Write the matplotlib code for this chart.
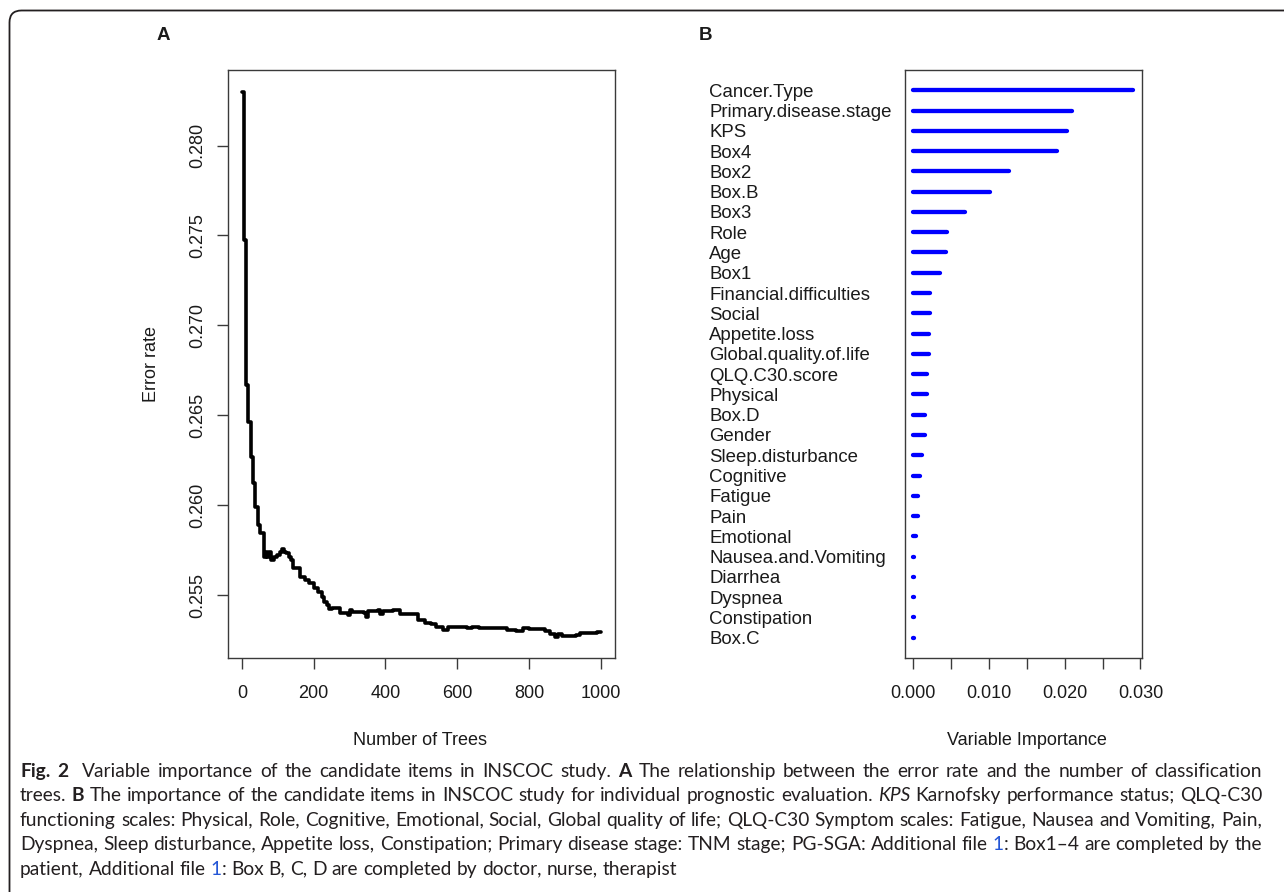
import re
import matplotlib
matplotlib.use('Agg')
import matplotlib.pyplot as plt
from matplotlib.patches import FancyBboxPatch
from matplotlib.transforms import IdentityTransform
from matplotlib.backends.backend_agg import get_hinting_flag

# A: OOB error rate as the forest grows (step values along the curve)
n_trees = [1, 7, 12, 18, 24, 30, 36, 44, 50, 62, 66, 70, 74, 80, 90, 98, 106, 112,
           118, 124, 130, 136, 142, 162, 175, 188, 200, 212, 222, 230, 236, 242, 250,
           272, 296, 300, 306, 340, 345, 352, 378, 384, 392, 420, 440, 490, 510, 528,
           542, 560, 575, 628, 640, 660, 740, 765, 783, 800, 845, 858, 872, 882, 892,
           930, 942, 990, 1000]
error_rate = [0.28299, 0.27477, 0.26669, 0.26465, 0.26270, 0.26124, 0.25992, 0.25890,
              0.25845, 0.25713, 0.25741, 0.25713, 0.25741, 0.25695, 0.25713, 0.25723,
              0.25741, 0.25756, 0.25741, 0.25732, 0.25713, 0.25695, 0.25649, 0.25602,
              0.25584, 0.25565, 0.25537, 0.25518, 0.25491, 0.25463, 0.25444, 0.25420,
              0.25429, 0.25398, 0.25389, 0.25416, 0.25407, 0.25398, 0.25376, 0.25411,
              0.25416, 0.25393, 0.25411, 0.25416, 0.25393, 0.25361, 0.25346, 0.25339,
              0.25320, 0.25305, 0.25324, 0.25318, 0.25324, 0.25315, 0.25305, 0.25301,
              0.25315, 0.25309, 0.25301, 0.25283, 0.25268, 0.25283, 0.25272, 0.25277,
              0.25287, 0.25296, 0.25296]

# B: variable importance, top to bottom
variables = ['Cancer.Type', 'Primary.disease.stage', 'KPS', 'Box4', 'Box2', 'Box.B',
             'Box3', 'Role', 'Age', 'Box1', 'Financial.difficulties', 'Social',
             'Appetite.loss', 'Global.quality.of.life', 'QLQ.C30.score', 'Physical',
             'Box.D', 'Gender', 'Sleep.disturbance', 'Cognitive', 'Fatigue', 'Pain',
             'Emotional', 'Nausea.and.Vomiting', 'Diarrhea', 'Dyspnea', 'Constipation',
             'Box.C']
importance = [0.02906, 0.02098, 0.02036, 0.01896, 0.01261, 0.01013, 0.00686, 0.00440,
              0.00427, 0.00347, 0.00223, 0.00223, 0.00202, 0.00202, 0.00175, 0.00175,
              0.00149, 0.00149, 0.00113, 0.00083, 0.00060, 0.00060, 0.00034, 0.00004,
              0.00004, 0.00004, 0.00004, 0.00003]

a_xticks = [0, 200, 400, 600, 800, 1000]
a_yticks = [0.255, 0.260, 0.265, 0.270, 0.275, 0.280]
a_yticklabels = ['0.255', '0.260', '0.265', '0.270', '0.275', '0.280']
b_xticks = [0.000, 0.005, 0.010, 0.015, 0.020, 0.025, 0.030]
b_xticklabels = ['0.000', '', '0.010', '', '0.020', '', '0.030']

caption_lines = [
    [('Fig. 2', 'b'), ('  Variable importance of the candidate items in INSCOC study. ', 'n'),
     ('A', 'b'), (' The relationship between the error rate and the number of classification', 'n')],
    [('trees. ', 'n'), ('B', 'b'),
     (' The importance of the candidate items in INSCOC study for individual prognostic evaluation. ', 'n'),
     ('KPS', 'i'), (' Karnofsky performance status; QLQ-C30', 'n')],
    [('functioning scales: Physical, Role, Cognitive, Emotional, Social, Global quality of life; '
      'QLQ-C30 Symptom scales: Fatigue, Nausea and Vomiting, Pain,', 'n')],
    [('Dyspnea, Sleep disturbance, Appetite loss, Constipation; Primary disease stage: TNM stage; '
      'PG-SGA: Additional file ', 'n'), ('1', 'link'), (': Box1\u20134 are completed by the', 'n')],
    [('patient, Additional file ', 'n'), ('1', 'link'),
     (': Box B, C, D are completed by doctor, nurse, therapist', 'n')],
]

W, H = 1284, 892
plt.rcParams['font.family'] = ['Liberation Sans', 'DejaVu Sans']
fig = plt.figure(figsize=(W / 100, H / 100), dpi=100)
ink = '#1a1a1a'
frame = '#3a3a3a'


def r_style(ax):
    for s in ax.spines.values():
        s.set_color(frame)
        s.set_linewidth(1.0)
    ax.tick_params(direction='out', length=7.9, width=1.0, color=frame,
                   labelsize=13, labelcolor=ink)


# ---- A: error rate vs number of trees
axA = fig.add_axes([228 / W, 1 - 658 / H, 387 / W, 588 / H])
axA.plot(n_trees, error_rate, drawstyle='steps-post', color='black', lw=2.6,
         solid_capstyle='round')
axA.set_xlim(-39, 1040)
axA.set_ylim(0.2515, 0.2842)
axA.set_xticks(a_xticks)
axA.set_yticks(a_yticks, a_yticklabels)
r_style(axA)
axA.tick_params(axis='x', pad=11.5)
axA.tick_params(axis='y', pad=8)
for lab in axA.get_yticklabels():
    lab.set_rotation(90)
    lab.set_va('center')
axA.set_xlabel('Number of Trees', fontsize=13, color=ink, va='center')
axA.xaxis.set_label_coords(0.497, -0.1395)
axA.set_ylabel('Error rate', fontsize=13, color=ink, va='center')
axA.yaxis.set_label_coords(-0.197, 0.5)

# ---- B: variable importance
axB = fig.add_axes([905 / W, 1 - 658 / H, 237 / W, 588 / H])
rows = list(range(len(variables), 0, -1))
axB.hlines(rows, 0, importance, color='#0000ff', lw=3.1, capstyle='round')
axB.set_xlim(-0.0011, 0.0302)
axB.set_ylim(0, len(variables) + 1)
axB.set_xticks(b_xticks, b_xticklabels)
axB.set_yticks(rows, variables)
r_style(axB)
axB.tick_params(axis='x', pad=11.5)
axB.tick_params(axis='y', length=0, pad=141, labelsize=13.4)
for lab in axB.get_yticklabels():
    lab.set_ha('left')
axB.set_xlabel('Variable Importance', fontsize=13, color=ink, va='center')
axB.xaxis.set_label_coords(0.515, -0.1395)

# panel letters
fig.text(163 / W, 1 - 35 / H, 'A', fontsize=13.5, fontweight='bold', ha='center', va='center', color=ink)
fig.text(705 / W, 1 - 35 / H, 'B', fontsize=13.5, fontweight='bold', ha='center', va='center', color=ink)

# outer rounded frame (top and left edges are inside the canvas)
fig.patches.append(FancyBboxPatch((9.5, -30), 1320, H - 10.5 + 30,
                                  boxstyle='round,pad=0,rounding_size=12',
                                  transform=IdentityTransform(), fill=False,
                                  lw=1.3, ec='#231f20'))

# ---- caption, justified like the journal layout
cap_font = dict(family=['Lato', 'DejaVu Sans'], fontsize=13.8)
cap_styles = {
    'n': dict(color='#231f20'),
    'b': dict(color='#231f20', fontweight='bold'),
    'i': dict(color='#231f20', style='italic'),
    'link': dict(color='#2456d6'),
}
renderer = fig.canvas.get_renderer()


def measure(s, st):
    """Width in px, plus the shift that puts the Agg baseline on a whole pixel row."""
    t = fig.text(0, 0, s, **cap_font, **cap_styles[st])
    w = t.get_window_extent(renderer).width
    font = renderer._prepare_font(t.get_fontproperties())
    t.remove()
    font.set_text(s, 0, flags=get_hinting_flag())
    h64 = font.get_width_height()[1]
    d64 = font.get_descent()
    shift = h64 // 64 - (h64 - d64) // 64 - d64 / 64
    return w, shift


space_w = measure('a a', 'n')[0] - measure('aa', 'n')[0]


def tokenize(segs):
    words, gaps = [], []
    new_word, spaces = True, 0
    for txt, st in segs:
        for part in re.split(r'( +)', txt):
            if not part:
                continue
            if part[0] == ' ':
                spaces += len(part)
                new_word = True
            else:
                if new_word or not words:
                    words.append([])
                    gaps.append(spaces if words[:-1] else 0)
                    spaces, new_word = 0, False
                words[-1].append((part, st))
    return words, gaps


def draw_caption_line(segs, x0, baseline, x1=None):
    words, gaps = tokenize(segs)
    metrics = [[measure(t, st) for t, st in w] for w in words]
    used = sum(m[0] for w in metrics for m in w)
    units = sum(gaps)
    sp = space_w
    if x1 is not None and units:
        sp = (x1 - x0 - used) / units
    x = x0
    for word, ms, g in zip(words, metrics, gaps):
        x += g * sp
        for (t, st), (w, shift) in zip(word, ms):
            fig.text(x / W, 1 - (baseline + shift) / H, t, ha='left', va='baseline',
                     **cap_font, **cap_styles[st])
            x += w


baselines = [777, 801, 826, 850, 875]
for i, (segs, yb) in enumerate(zip(caption_lines, baselines)):
    draw_caption_line(segs, 20, yb, 1262 if i < len(caption_lines) - 1 else None)

fig.savefig('out.png', dpi=100)
